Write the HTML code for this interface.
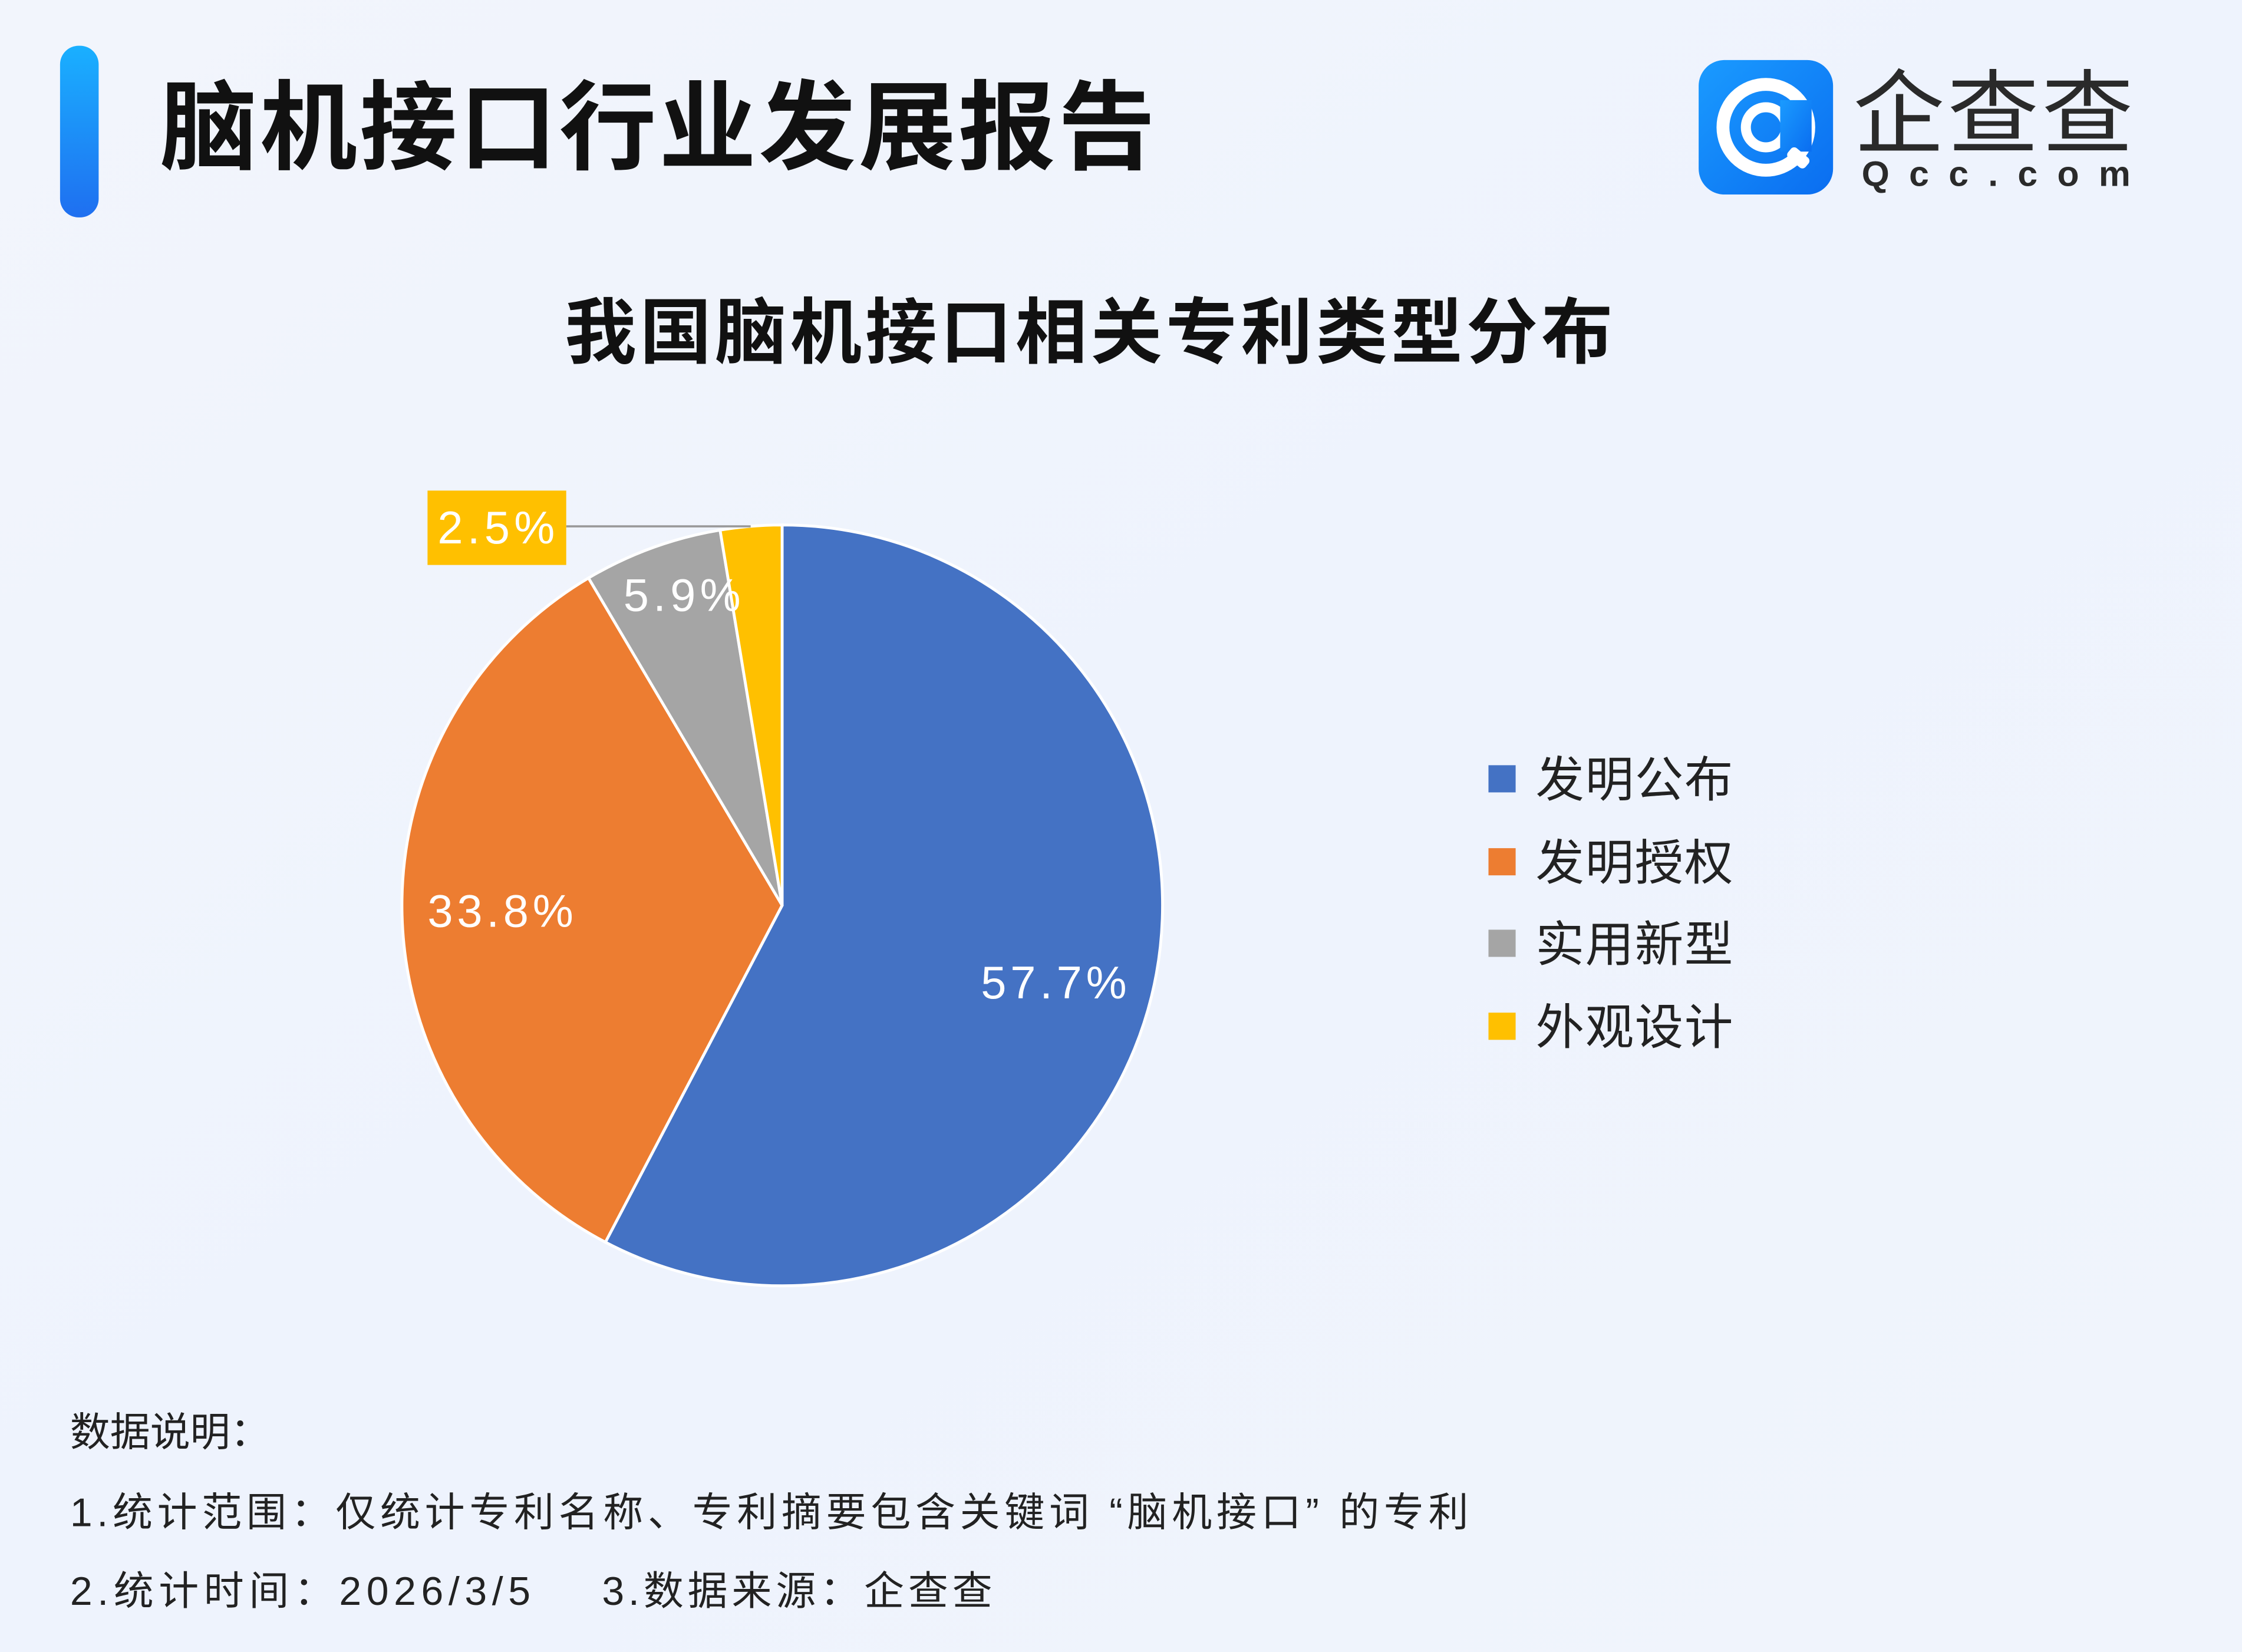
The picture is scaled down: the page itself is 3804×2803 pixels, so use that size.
<!DOCTYPE html>
<html><head><meta charset="utf-8"><style>
html,body{margin:0;padding:0;}
body{width:3804px;height:2803px;overflow:hidden;background:#eef3fc;}
svg{display:block;}
text{font-family:"Liberation Sans","Noto Sans CJK SC",sans-serif;}
.dv{font-family:"DejaVu Sans","Noto Sans CJK SC",sans-serif;}
</style></head><body>
<svg width="3804" height="2803" viewBox="0 0 1568 1155" preserveAspectRatio="none" xmlns="http://www.w3.org/2000/svg">
<defs>
<linearGradient id="bg" x1="0" y1="0" x2="1" y2="1">
<stop offset="0" stop-color="#f2f5fc"/><stop offset="0.5" stop-color="#eef3fd"/><stop offset="1" stop-color="#f0f4fc"/>
</linearGradient>
<linearGradient id="bar" x1="0" y1="0" x2="0" y2="1">
<stop offset="0" stop-color="#1ab0ff"/><stop offset="1" stop-color="#1f6ff0"/>
</linearGradient>
<linearGradient id="logo" x1="0" y1="0" x2="1" y2="1">
<stop offset="0" stop-color="#1a9bff"/><stop offset="1" stop-color="#0a6df0"/>
</linearGradient>
</defs>
<rect width="1568" height="1155" fill="url(#bg)"/>
<rect x="42" y="32" width="27" height="120" rx="13" fill="url(#bar)"/>
<text x="112" y="113" font-size="68" font-weight="bold" fill="#111" textLength="696" lengthAdjust="spacing">脑机接口行业发展报告</text>
<rect x="1188" y="42" width="94" height="94" rx="18" fill="url(#logo)"/>
<circle cx="1235" cy="89" r="30" fill="none" stroke="#fff" stroke-width="9"/>
<circle cx="1235" cy="89" r="14" fill="none" stroke="#fff" stroke-width="7"/>
<rect x="1245" y="70" width="22" height="36" fill="url(#logo)"/>
<rect x="1250" y="106" width="16" height="9" rx="3" fill="#fff" transform="rotate(40 1258 110)"/>
<text x="1296" y="102" font-size="64" fill="#2a2a2a" textLength="196">企查查</text>
<text x="1302" y="130" font-size="25" font-weight="bold" fill="#2a2a2a" textLength="188" lengthAdjust="spacing">Qcc.com</text>
<text x="395" y="250" font-size="50" font-weight="bold" fill="#111" textLength="733" lengthAdjust="spacing">我国脑机接口相关专利类型分布</text>
<g stroke="#fff" stroke-width="2">
<path d="M547,633 L547,367 A266,266 0 1 1 423.4,868.5 Z" fill="#4472c4"/>
<path d="M547,633 L423.4,868.5 A266,266 0 0 1 411.6,404.1 Z" fill="#ed7d31"/>
<path d="M547,633 L411.6,404.1 A266,266 0 0 1 503.6,370.6 Z" fill="#a5a5a5"/>
<path d="M547,633 L503.6,370.6 A266,266 0 0 1 547,367 Z" fill="#ffc000"/>
</g>
<line x1="396" y1="368" x2="525" y2="368" stroke="#999" stroke-width="1.5"/>
<rect x="299" y="343" width="97" height="52" fill="#ffc000"/>
<g font-size="32" fill="#fff" class="dv">
<text x="306" y="380" textLength="82">2.5%</text>
<text x="436" y="427" textLength="82">5.9%</text>
<text x="299" y="648" textLength="102">33.8%</text>
<text x="686" y="698" textLength="102">57.7%</text>
</g>
<rect x="1041" y="535" width="19" height="19" fill="#4472c4"/>
<rect x="1041" y="593" width="19" height="19" fill="#ed7d31"/>
<rect x="1041" y="650" width="19" height="19" fill="#a5a5a5"/>
<rect x="1041" y="708" width="19" height="19" fill="#ffc000"/>
<g font-size="34" fill="#222">
<text x="1074" y="557" textLength="138">发明公布</text>
<text x="1074" y="615" textLength="138">发明授权</text>
<text x="1074" y="672" textLength="138">实用新型</text>
<text x="1074" y="730" textLength="138">外观设计</text>
</g>
<g font-size="28" fill="#222" class="dv">
<text x="49" y="1011">数据说明：</text>
<text x="49" y="1067" textLength="978" lengthAdjust="spacing">1.统计范围：仅统计专利名称、专利摘要包含关键词 “脑机接口” 的专利</text>
<text x="49" y="1122" textLength="322" lengthAdjust="spacing">2.统计时间：2026/3/5</text>
<text x="421" y="1122" textLength="273" lengthAdjust="spacing">3.数据来源：企查查</text>
</g>
</svg>
</body></html>
